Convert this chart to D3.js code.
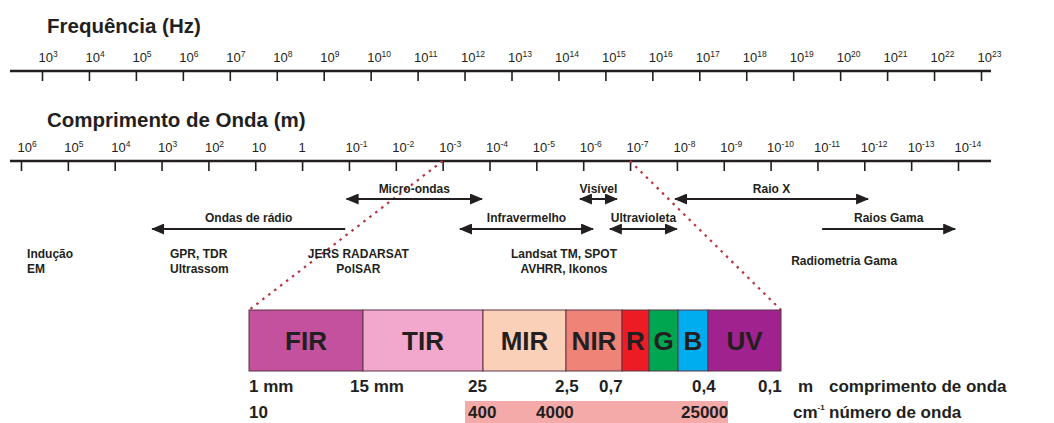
<!DOCTYPE html>
<html>
<head>
<meta charset="utf-8">
<script src="https://cdn.jsdelivr.net/npm/d3@7"></script>
<style>
	html, body { margin: 0; padding: 0; background: #fff; }
	svg { display: block; font-family: 'Liberation Sans', Arial, sans-serif; }
</style>
</head>
<body>
<div id="chart"></div>
<script>
// axis ticks (powers of ten)
var freqExponents = [3, 4, 5, 6, 7, 8, 9, 10, 11, 12, 13, 14, 15, 16, 17, 18, 19, 20, 21, 22, 23];
var waveExponents = [6, 5, 4, 3, 2, 1, 0, -1, -2, -3, -4, -5, -6, -7, -8, -9, -10, -11, -12, -13, -14];

// spectral regions, in wavelength exponent units
var regionNames = ['Ondas de rádio', 'Micro-ondas', 'Infravermelho', 'Visível', 'Ultravioleta', 'Raio X', 'Raios Gama'];
var regionFrom = [-0.92, -0.95, -3.37, -5.93, -6.57, -7.96, -11.1];
var regionTo = [3.2, -3.84, -6.21, -6.72, -8.0, -12.08, -13.94];
var regionHeads = ['end', 'both', 'both', 'both', 'both', 'both', 'end'];
var regionRow = [2, 1, 2, 1, 2, 1, 2];

// sensors / methods under the arrows
var sensorLines = [['Indução', 'EM'], ['GPR, TDR', 'Ultrassom'], ['JERS RADARSAT', 'PolSAR'],
	['Landsat TM, SPOT', 'AVHRR, Ikonos'], ['Radiometria Gama']];
var sensorAt = [5.87, 2.82, -1.2, -5.59, -11.57];
var sensorAnchor = ['start', 'start', 'middle', 'middle', 'middle'];

// zoomed optical bands
var bandNames = ['FIR', 'TIR', 'MIR', 'NIR', 'R', 'G', 'B', 'UV'];
var bandSpans = [114, 120, 83, 56, 27, 29, 30, 73];
var bandColors = ['#c4519e', '#f2a8cc', '#fbd0b9', '#f08378', '#ed1c24', '#00a650', '#00aeef', '#a0228f'];

var wavelengthMarks = ['1 mm', '15 mm', '25', '2,5', '0,7', '0,4', '0,1'];
var wavelengthMarkAt = [0, 101, 219, 306, 350, 443, 509];
var wavenumberMarks = ['10', '400', '4000', '25000'];
var wavenumberMarkAt = [0, 219, 287, 432];
var wavenumberBand = [216, 479];

var ink = '#231f20';
var width = 1054, height = 423;

var svg = d3.select('#chart')
	.append('svg')
	.attr('width', width)
	.attr('height', height);

var defs = svg.append('defs');
function arrowMarker(id, orient) {
	defs.append('marker')
		.attr('id', id)
		.attr('viewBox', '0 0 13 11')
		.attr('refX', 12).attr('refY', 5.5)
		.attr('markerWidth', 13).attr('markerHeight', 11)
		.attr('markerUnits', 'userSpaceOnUse')
		.attr('orient', orient)
		.append('path')
		.attr('d', 'M0,0 L13,5.5 L0,11 Z')
		.attr('fill', ink);
}
arrowMarker('head', 'auto');
arrowMarker('tail', 'auto-start-reverse');

var freqX = d3.scaleLinear().domain([3, 23]).range([42, 981]);
var waveX = d3.scaleLinear().domain([6, -14]).range([21, 958]);

// draw a power-of-ten axis: line, ticks downwards, labels above
function powerAxis(scale, values, lineY, title, titleY, fmt) {
	svg.append('text')
		.attr('x', 47).attr('y', titleY)
		.style('font-size', '20.5px').style('font-weight', 'bold')
		.attr('fill', ink)
		.text(title);

	var g = svg.append('g')
		.attr('transform', 'translate(0,' + lineY + ')')
		.call(d3.axisTop(scale)
			.tickValues(values)
			.tickSizeInner(-10)
			.tickSizeOuter(0)
			.tickPadding(9)
			.tickFormat(''));
	g.select('.domain').remove();
	g.selectAll('.tick line').attr('stroke', ink).attr('stroke-width', 1.6);

	g.append('line')
		.attr('x1', 10).attr('x2', 991)
		.attr('stroke', ink).attr('stroke-width', 2.6);

	g.selectAll('.tick text').each(function (d) {
		var t = d3.select(this)
			.attr('text-anchor', 'start')
			.attr('x', -4)
			.attr('dy', 0)
			.attr('fill', ink)
			.style('font-size', '13px')
			.text(null);
		var parts = fmt(d);
		t.append('tspan').text(parts[0]);
		if (parts[1] !== null) {
			t.append('tspan')
				.attr('dy', -5)
				.style('font-size', '8.5px')
				.text(parts[1]);
		}
	});
}

powerAxis(freqX, freqExponents, 71, 'Frequência (Hz)', 33, function (d) {
	return ['10', String(d)];
});
powerAxis(waveX, waveExponents, 161, 'Comprimento de Onda (m)', 127, function (d) {
	if (d === 1) return ['10', null];
	if (d === 0) return ['1', null];
	return ['10', String(d)];
});

// bar scale for the zoomed optical window
var bandTotal = d3.sum(bandSpans);
var barX = d3.scaleLinear().domain([0, bandTotal]).range([249, 781]);
var barTop = 310, barBottom = 371;
var bandStarts = d3.cumsum([0].concat(bandSpans));

// dotted zoom guides from the wavelength axis to the band bar
var guides = [[-3, 0], [-7, bandTotal]];
svg.selectAll('line.guide')
	.data(guides)
	.enter()
	.append('line')
	.attr('class', 'guide')
	.attr('x1', function (d) { return waveX(d[0]); })
	.attr('y1', 161)
	.attr('x2', function (d) { return barX(d[1]); })
	.attr('y2', barTop)
	.attr('stroke', '#b8323f')
	.attr('stroke-width', 2.2)
	.attr('stroke-dasharray', '2.5,5');

// region arrows
var rowY = { 1: 199, 2: 229 };
var rowText = { 1: 193, 2: 222 };
var regions = regionNames.map(function (n, i) {
	return { name: n, from: regionFrom[i], to: regionTo[i], heads: regionHeads[i], row: regionRow[i] };
});

svg.selectAll('line.region')
	.data(regions)
	.enter()
	.append('line')
	.attr('class', 'region')
	.attr('x1', function (d) { return waveX(d.from); })
	.attr('x2', function (d) { return waveX(d.to); })
	.attr('y1', function (d) { return rowY[d.row]; })
	.attr('y2', function (d) { return rowY[d.row]; })
	.attr('stroke', ink)
	.attr('stroke-width', 2)
	.attr('marker-end', 'url(#head)')
	.attr('marker-start', function (d) { return d.heads === 'both' ? 'url(#tail)' : null; });

svg.selectAll('text.region')
	.data(regions)
	.enter()
	.append('text')
	.attr('class', 'region')
	.attr('x', function (d) { return (waveX(d.from) + waveX(d.to)) / 2; })
	.attr('y', function (d) { return rowText[d.row]; })
	.attr('text-anchor', 'middle')
	.attr('fill', ink)
	.style('font-size', '12px').style('font-weight', 'bold')
	.text(function (d) { return d.name; });

// sensors
sensorLines.forEach(function (lines, i) {
	var t = svg.append('text')
		.attr('x', waveX(sensorAt[i]))
		.attr('y', lines.length === 1 ? 265 : 258)
		.attr('text-anchor', sensorAnchor[i])
		.attr('fill', ink)
		.style('font-size', '12px').style('font-weight', 'bold');
	lines.forEach(function (l, j) {
		t.append('tspan')
			.attr('x', waveX(sensorAt[i]))
			.attr('dy', j === 0 ? 0 : 14.5)
			.text(l);
	});
});

// band bar
var bands = bandNames.map(function (n, i) {
	return { name: n, start: bandStarts[i], end: bandStarts[i + 1], color: bandColors[i] };
});

svg.selectAll('rect.band')
	.data(bands)
	.enter()
	.append('rect')
	.attr('class', 'band')
	.attr('x', function (d) { return barX(d.start); })
	.attr('width', function (d) { return barX(d.end) - barX(d.start); })
	.attr('y', barTop)
	.attr('height', barBottom - barTop)
	.attr('fill', function (d) { return d.color; })
	.attr('stroke', '#5a3446')
	.attr('stroke-width', 1);

svg.selectAll('text.band')
	.data(bands)
	.enter()
	.append('text')
	.attr('class', 'band')
	.attr('x', function (d) { return (barX(d.start) + barX(d.end)) / 2; })
	.attr('y', 350)
	.attr('text-anchor', 'middle')
	.attr('fill', ink)
	.style('font-size', '26px').style('font-weight', 'bold')
	.text(function (d) { return d.name; });

// wavenumber highlight
svg.append('rect')
	.attr('x', barX(wavenumberBand[0]))
	.attr('width', barX(wavenumberBand[1]) - barX(wavenumberBand[0]))
	.attr('y', 401)
	.attr('height', 22)
	.attr('fill', '#f4aaa8');

function bottomText(x, y, s) {
	return svg.append('text')
		.attr('x', x).attr('y', y)
		.attr('fill', ink)
		.style('font-size', '17px').style('font-weight', 'bold')
		.text(s);
}

function bottomRow(labels, at, y) {
	labels.forEach(function (d, i) {
		bottomText(barX(at[i]), y, d);
	});
}
bottomRow(wavelengthMarks, wavelengthMarkAt, 392);
bottomRow(wavenumberMarks, wavenumberMarkAt, 418);

// units and captions
bottomText(barX(549), 392, 'm');
bottomText(barX(580), 392, 'comprimento de onda');
var cm = bottomText(barX(544), 418, 'cm');
cm.append('tspan').attr('dy', -8).style('font-size', '8px').text('-1');
bottomText(barX(580), 418, 'número de onda');
</script>
</body>
</html>
